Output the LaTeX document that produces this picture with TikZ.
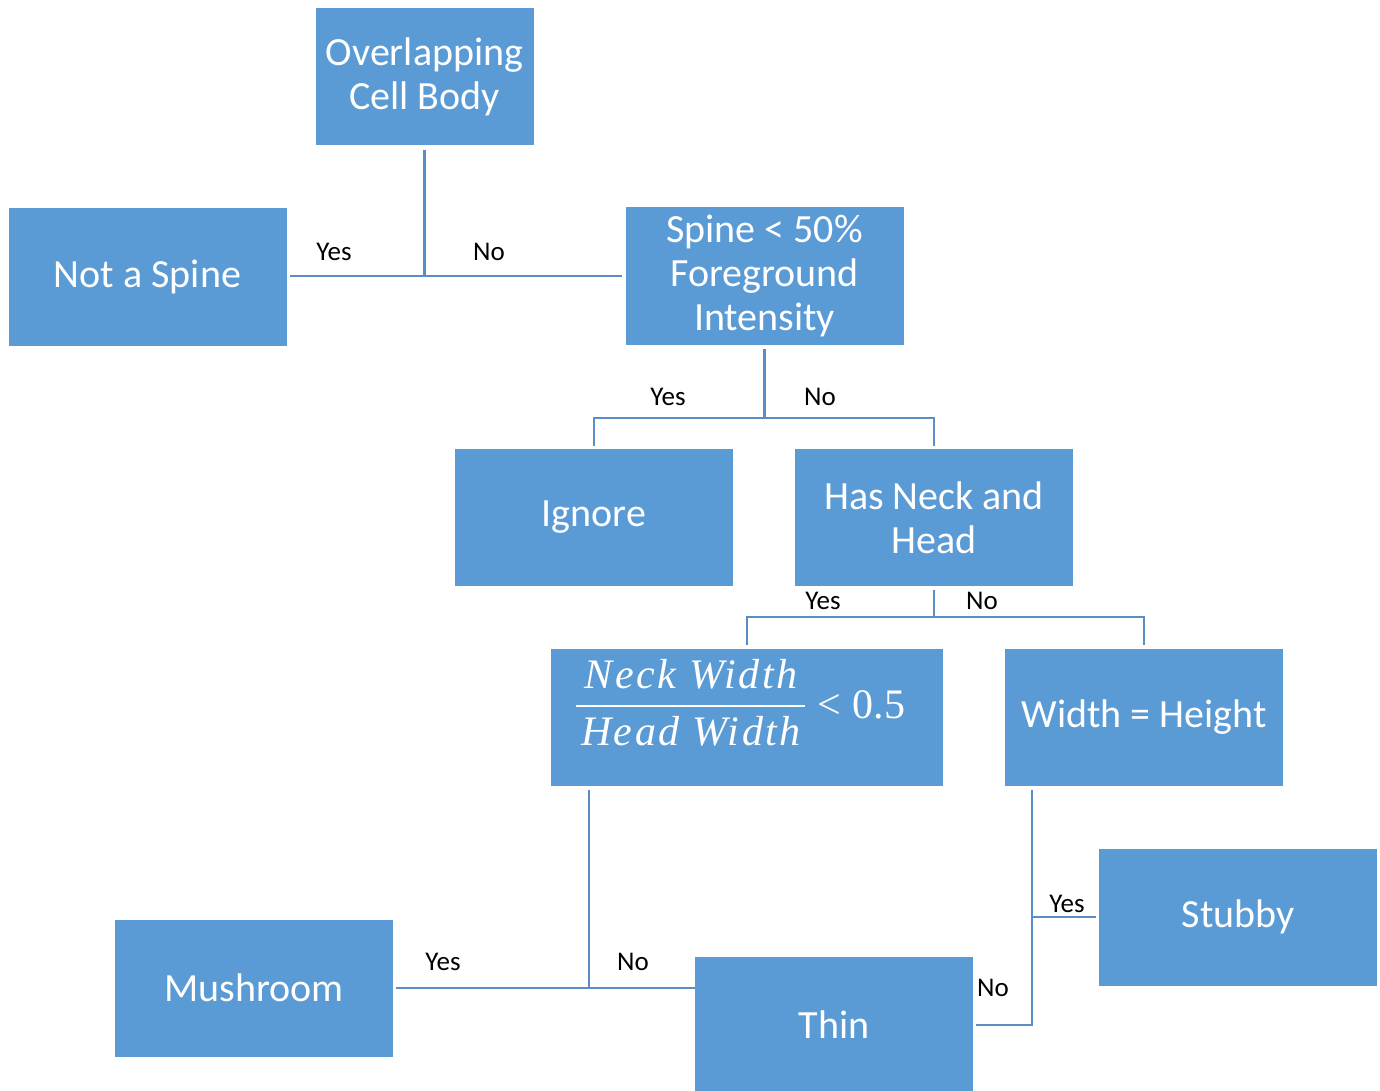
\documentclass[tikz,border=0pt]{standalone}
\usepackage{fontspec}
\setmainfont{Carlito}
\newfontfamily\fracfont[LetterSpace=6]{Liberation Serif}
\newfontfamily\numfont{Liberation Serif}
\usetikzlibrary{calc}
\definecolor{boxblue}{HTML}{5B9BD5}
\definecolor{lineblue}{HTML}{5A8DC8}
\tikzset{
  box/.style={fill=boxblue, draw=none, text=white, minimum width=278pt, minimum height=137pt,
    inner sep=0pt, align=center, font=\fontsize{40}{44}\selectfont},
  conn/.style={draw=lineblue, line width=2.6pt},
  lab/.style={font=\fontsize{27}{30}\selectfont, text=black, inner sep=0pt},
  fractxt/.style={text=white, inner sep=0pt, font=\fontsize{42}{44}\fracfont\itshape}
}
\begin{document}
\begin{tikzpicture}[x=1pt,y=-1pt]
\useasboundingbox (0,0) rectangle (1380,1091);
% boxes
\node[box, minimum width=218pt] (ocb) at (424.5,77) {Overlapping\\Cell Body};
\node[box] (nas) at (147.5,277) {Not a Spine};
\node[box] (spine) at (764.5,276) {Spine < 50\%\\Foreground\\Intensity};
\node[box] (ignore) at (594,517.5) {Ignore};
\node[box] (neck) at (934,517.5) {Has Neck and\\Head};
\node[box, minimum width=392pt] (frac) at (747,717) {};
\node[fractxt, anchor=base] (numer) at (691,688) {Neck Width};
\node[fractxt, anchor=base] (denom) at (691,745) {Head Width};
\draw[white, line width=2pt] (576,706) -- (805,706);
\node[text=white, inner sep=0pt, font=\fontsize{42}{44}\numfont, anchor=west] (less) at (817,705) {<\hspace{12pt}0.5};
\node[box] (weq) at (1144,717) {Width = Height};
\node[box] (stubby) at (1238,917) {Stubby};
\node[box] (mush) at (254,988) {Mushroom};
\node[box, minimum height=136pt] (thin) at (834,1025) {Thin};
% junctions
\coordinate (j1) at (424.5,276);
\coordinate (j2) at (764.5,418);
\coordinate (j3) at (934,617);
\coordinate (j4) at (589,988);
\coordinate (j5) at (1032,1025);
\coordinate (j6) at (1032,917);
% connectors
\draw[conn] ($(ocb.south)+(0,4)$) -- (j1);
\draw[conn] ($(j1 -| nas.east)+(3,0)$) -- ($(j1 -| spine.west)+(-3,0)$);
\draw[conn] ($(spine.south)+(0,4)$) -- (j2);
\draw[conn] ($(ignore.north)+(0,-3)$) |- (j2) -| ($(neck.north)+(0,-3)$);
\draw[conn] ($(neck.south)+(0,4)$) -- (j3);
\draw[conn] ($(frac.north)+(0,-3)$) |- (j3) -| ($(weq.north)+(0,-3)$);
\draw[conn] ($(j4 |- frac.south)+(0,4)$) -- (j4);
\draw[conn] ($(mush.east)+(3,0)$) -- (j4) -- (thin.west |- j4);
\draw[conn] ($(j5 |- weq.south)+(0,4)$) -- (j5) -- ($(thin.east |- j5)+(3,0)$);
\draw[conn] (j6) -- ($(stubby.west)+(-3,0)$);
% labels
\node[lab] (y1) at (334,252) {Yes};
\node[lab] (n1) at (489,252) {No};
\node[lab] (y2) at (668,397) {Yes};
\node[lab] (n2) at (820,397) {No};
\node[lab] (y3) at (823,601) {Yes};
\node[lab] (n3) at (982,601) {No};
\node[lab] (y4) at (443,962) {Yes};
\node[lab] (n4) at (633,962) {No};
\node[lab] (y5) at (1067,904) {Yes};
\node[lab] (n5) at (993,988) {No};
\end{tikzpicture}
\end{document}
